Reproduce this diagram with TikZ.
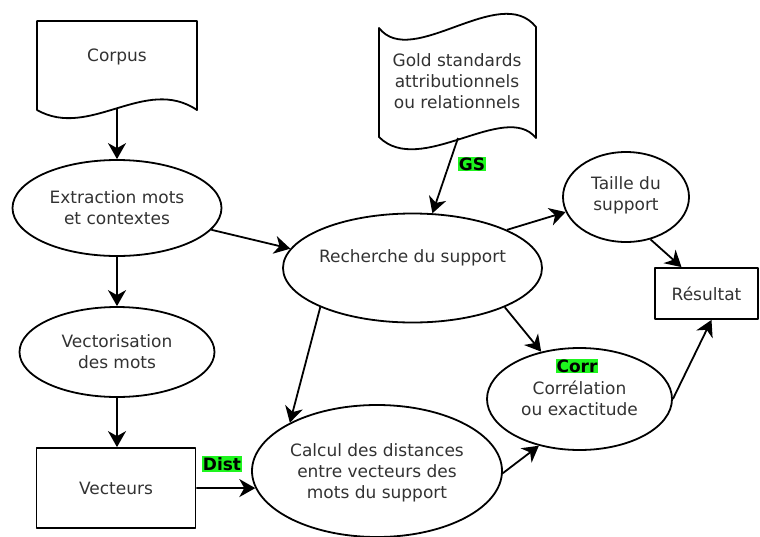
\documentclass[tikz,border=0pt]{standalone}
\usepackage{fontspec}
\setmainfont{DejaVu Sans}
\usetikzlibrary{shapes.geometric,arrows.meta}
\definecolor{tag}{RGB}{30,245,30}
\definecolor{ink}{RGB}{50,50,50}

\begin{document}
\begin{tikzpicture}[x=1pt,y=-1pt,
  shapeline/.style={draw=black, line width=1.8pt, line join=round},
  ell/.style={shapeline, ellipse, inner sep=0pt},
  box/.style={shapeline, rectangle, inner sep=0pt},
  txt/.style={font=\fontsize{17}{21}\selectfont, text=ink, align=center},
  tagbox/.style={fill=tag, inner sep=1pt, font=\fontsize{17}{20}\selectfont\bfseries, text=black},
  flow/.style={line width=1.8pt, -{Stealth[length=16pt,width=18pt,inset=5pt]}},
]
\useasboundingbox (0,0) rectangle (760,536);

% document shapes (wavy edges)
\draw[shapeline] (37,21) -- (197,21) -- (197,110)
  .. controls (145,75) and (90,140) .. (37,110) -- cycle;
\node[txt] (corpus) at (117,57) {Corpus};
\coordinate (corpusout) at (117,109);

\draw[shapeline] (379,28) .. controls (412,70) and (500,-18) .. (536,27)
  -- (536,138) .. controls (505,100) and (420,178) .. (379,137) -- cycle;
\node[txt] (gold) at (457,81) {Gold standards\\attributionnels\\ou relationnels};
\coordinate (goldout) at (458,138);

% process ellipses
\node[ell, minimum width=209pt, minimum height=96pt] (extr) at (117,208) {};
\node[txt] at (extr) {Extraction mots\\et contextes};

\node[ell, minimum width=195pt, minimum height=90pt] (vect) at (117,352) {};
\node[txt] at (vect) {Vectorisation\\des mots};

\node[ell, minimum width=259pt, minimum height=109pt] (rech) at (412.5,268) {};
\node[txt] at (412.5,258) {Recherche du support};

\node[ell, minimum width=126pt, minimum height=90pt] (taille) at (626,197) {};
\node[txt] at (626,195) {Taille du\\support};

\node[ell, minimum width=185pt, minimum height=102pt] (corr) at (579.5,399) {};
\node[txt] at (579.5,398) {Corrélation\\ou exactitude};

\node[ell, minimum width=250pt, minimum height=132pt] (calc) at (377,471) {};
\node[txt] at (377,473) {Calcul des distances\\entre vecteurs des\\mots du support};

% rectangles
\node[box, minimum width=159pt, minimum height=80pt] (vecs) at (116,488) {};
\node[txt] at (vecs) {Vecteurs};

\node[box, minimum width=103pt, minimum height=51pt] (res) at (706.5,293.5) {};
\node[txt] at (res) {Résultat};

% connectors
\draw[flow] (corpusout) -- (extr.north);
\draw[flow] (extr.south) -- (vect.north);
\draw[flow] (vect.south) -- (vect.south |- vecs.north);
\draw[flow] (extr.-13) -- (rech.171.5);
\draw[flow] (goldout) -- (rech.70.5);
\draw[flow] (rech.22.8) -- (taille.194.7);
\draw[flow] (taille.-60.3) -- ([xshift=-25pt]res.north);
\draw[flow] (rech.203.4) -- (calc.151.7);
\draw[flow] (rech.-23.4) -- (corr.129.8);
\draw[flow] (calc.-1) -- (corr.229.7);
\draw[flow] (corr.east) -- ([xshift=5pt]res.south);
\draw[flow] (vecs.east) -- (calc.188);

% edge tags
\node[tagbox] (gs) at (472,164) {GS};
\node[tagbox] (dist) at (222,464) {Dist};
\node[tagbox] (corrtag) at (577,366) {Corr};
\end{tikzpicture}
\end{document}
